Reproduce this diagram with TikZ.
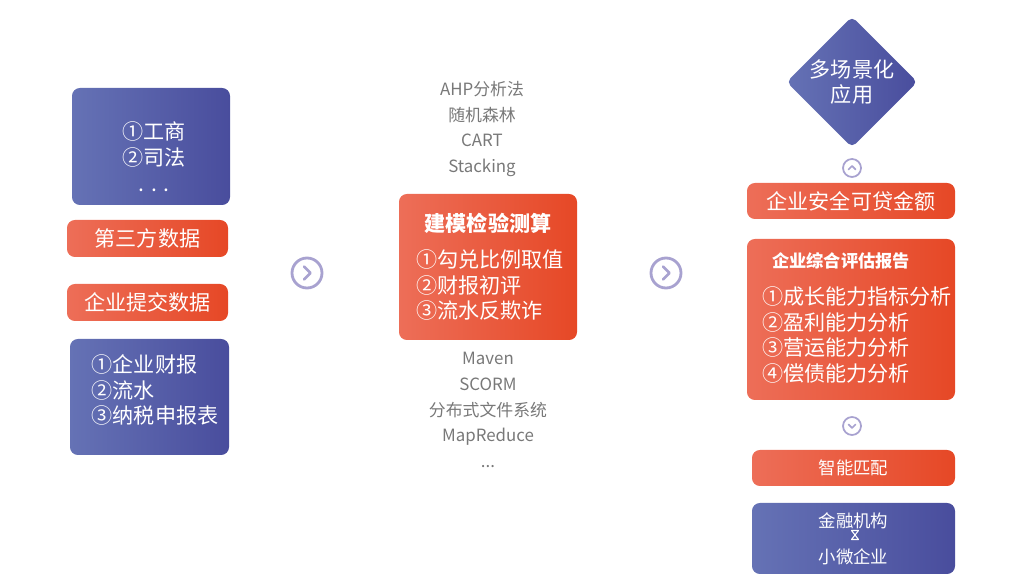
\documentclass[tikz,border=0pt]{standalone}
\usepackage{fontspec}
\setmainfont{Noto Sans CJK SC}
\usetikzlibrary{shapes,calc}
\definecolor{orl}{RGB}{237,110,88}
\definecolor{orr}{RGB}{230,72,38}
\definecolor{bll}{RGB}{101,114,181}
\definecolor{blr}{RGB}{73,77,157}
\definecolor{lav}{RGB}{168,162,208}
\definecolor{gry}{RGB}{120,120,120}
\newcommand{\pxl}{0.02cm}
\tikzset{obox/.style={rectangle, rounded corners=4.5pt, left color=orl, right color=orr, text=white, inner sep=0pt}}
\tikzset{bbox/.style={rectangle, rounded corners=4.5pt, left color=bll, right color=blr, text=white, inner sep=0pt}}
\tikzset{big/.style={font=\fontsize{12}{14.74}\selectfont}, small/.style={font=\fontsize{9.9}{10.5}\selectfont}}
\tikzset{wtxt/.style={text=white, align=center, inner sep=0pt}}
\tikzset{gtxt/.style={text=gry, align=center, inner sep=0pt, font=\fontsize{9.6}{14.74}\selectfont}}
\tikzset{ico/.style={circle, draw=lav, line width=1.6pt, inner sep=0pt}, chev/.style={draw=lav, line width=1.6pt, line cap=round, line join=round}}

\begin{document}
\begin{tikzpicture}[x=\pxl, y=-\pxl]
      \useasboundingbox (0,0) rectangle (1025,587);
      % left column
      \node[bbox, minimum width=158*\pxl, minimum height=117*\pxl] (ext1) at (151,146.5) {};
      \node[wtxt, big] (ext1t) at (154,157) {①工商\\②司法\\. . .};
      \node[obox, big, minimum width=161*\pxl, minimum height=37*\pxl] (third) at (147.5,238.5) {第三方数据};
      \node[obox, big, minimum width=161*\pxl, minimum height=37*\pxl] (own) at (147.5,302.5) {企业提交数据};
      \node[bbox, minimum width=159*\pxl, minimum height=116*\pxl] (ext2) at (149.5,397) {};
      \node[wtxt, big, align=left] (ext2t) at (155,390) {①企业财报\\②流水\\③纳税申报表};
      % arrows
      \node[ico, minimum size=30*\pxl] (go1) at (307,273) {};
      \draw[chev] ($(go1)+(-3,-6.5)$) -- ($(go1)+(3.5,0)$) -- ($(go1)+(-3,6.5)$);
      \node[ico, minimum size=30*\pxl] (go2) at (666,273) {};
      \draw[chev] ($(go2)+(-3,-6.5)$) -- ($(go2)+(3.5,0)$) -- ($(go2)+(-3,6.5)$);
      % middle column
      \node[gtxt] (algo) at (482,129) {AHP分析法\\随机森林\\CART\\Stacking};
      \node[obox, minimum width=178*\pxl, minimum height=146*\pxl] (model) at (488,267) {};
      \node[wtxt, font=\fontsize{12}{14.74}\selectfont\bfseries] (modelt) at (488,223) {建模检验测算};
      \node[wtxt, big, align=left] (modell) at (490,285) {①勾兑比例取值\\②财报初评\\③流水反欺诈};
      \node[gtxt] (tool) at (488,410) {Maven\\SCORM\\分布式文件系统\\MapReduce\\...};
      % right column
      \node[diamond, rounded corners=3pt, left color=bll, right color=blr, inner sep=0pt, minimum size=131*\pxl, wtxt, big] (app) at (852,82) {多场景化\\应用};
      \node[ico, line width=1pt, minimum size=18*\pxl] (up) at (852,168) {};
      \draw[chev, line width=1pt] ($(up)+(-3.5,1.5)$) -- ($(up)+(0,-2)$) -- ($(up)+(3.5,1.5)$);
      \node[obox, big, minimum width=208*\pxl, minimum height=36*\pxl] (loan) at (851,201) {企业安全可贷金额};
      \node[obox, minimum width=208*\pxl, minimum height=161*\pxl] (rep) at (851,319.5) {};
      \node[wtxt, font=\fontsize{9.8}{12}\selectfont\bfseries] (rept) at (841,261) {企业综合评估报告};
      \node[wtxt, big, align=left] (repl) at (857,335) {①成长能力指标分析\\②盈利能力分析\\③营运能力分析\\④偿债能力分析};
      \node[ico, line width=1pt, minimum size=18*\pxl] (down) at (852,426) {};
      \draw[chev, line width=1pt] ($(down)+(-3.5,-1.5)$) -- ($(down)+(0,2)$) -- ($(down)+(3.5,-1.5)$);
      \node[obox, small, minimum width=203*\pxl, minimum height=36*\pxl] (match) at (853.5,468) {智能匹配};
      \node[bbox, minimum width=203*\pxl, minimum height=71*\pxl] (bank) at (853.5,538.5) {};
      \node[wtxt, small] (bankt) at (853.5,521) {金融机构};
      \node[wtxt, small] (smet) at (853.5,557) {小微企业};
      \coordinate (hg) at (855,535);
      \draw[white, line width=.6pt, line join=round] ($(hg)+(-3.5,-4.5)$) -- ($(hg)+(3.5,-4.5)$) -- ($(hg)+(-3.5,4.5)$) -- ($(hg)+(3.5,4.5)$) -- cycle;
\end{tikzpicture}
\end{document}
